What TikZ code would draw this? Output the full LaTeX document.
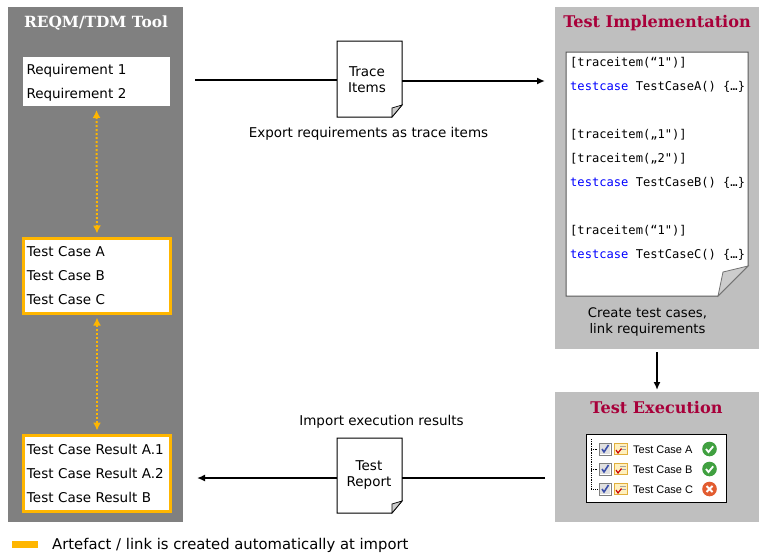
\documentclass[tikz,border=0pt]{standalone}
\usepackage{fontspec}
\setmainfont{DejaVu Sans}
\setmonofont{DejaVu Sans Mono}
\newfontfamily\titlefont{DejaVu Serif}
\newfontfamily\rowfont{Liberation Sans}
\usetikzlibrary{arrows.meta}

\definecolor{panelgrey}{RGB}{128,128,128}
\definecolor{panellight}{RGB}{191,191,191}
\definecolor{autoorange}{RGB}{255,182,0}
\definecolor{titlered}{RGB}{168,0,58}
\definecolor{foldgrey}{RGB}{204,204,204}
\definecolor{codeblue}{RGB}{0,0,255}
\definecolor{okgreen}{RGB}{64,160,64}
\definecolor{failred}{RGB}{226,92,48}
\definecolor{notefill}{RGB}{255,240,190}
\definecolor{noteedge}{RGB}{225,175,60}
\definecolor{tickblue}{RGB}{60,80,170}

\newcommand{\testkw}[1]{\textcolor{codeblue}{#1}}

\tikzset{
  panel/.style={fill=#1, draw=none, inner sep=0pt, outer sep=0pt, anchor=center},
  paneltitle/.style={font=\titlefont\bfseries\fontsize{16.1}{20}\selectfont, inner sep=0pt},
  listbox/.style={fill=white, inner sep=0pt, outer sep=0pt, text width=140pt, align=left,
    minimum width=147pt, font=\fontsize{13.5}{24}\selectfont},
  autobox/.style={listbox, draw=autoorange, line width=3pt},
  docshape/.style={inner sep=0pt, outer sep=0pt, minimum width=65pt},
  doctext/.style={inner sep=0pt, align=center, font=\fontsize{13.5}{16}\selectfont},
  caption/.style={inner sep=0pt, align=center, font=\fontsize{13.5}{16}\selectfont},
  flow/.style={-{Latex[length=8pt,width=7pt]}, line width=2pt},
  autolink/.style={{Latex[length=8pt,width=8pt]}-{Latex[length=8pt,width=8pt]},
    draw=autoorange, line width=2pt, dotted, shorten >=5pt, shorten <=4pt},
  rowtext/.style={inner sep=0pt, anchor=west, font=\rowfont\fontsize{11}{14}\selectfont},
  treeline/.style={line width=0.8pt, densely dotted},
  checkbox/.pic={
    \fill[white] (-6.5,-6.5) rectangle (6.5,6.5);
    \draw[gray, line width=1pt] (-6,-6) rectangle (6,6);
    \fill[foldgrey!60] (-5,-5) rectangle (5,5);
    \draw[tickblue, line width=1.6pt] (-3,0) -- (-1,3) -- (3.5,-4);
  },
  noteicon/.pic={
    \draw[noteedge, fill=notefill, line width=1pt] (-6.5,-5.5) rectangle (6.5,5.5);
    \draw[gray!70, line width=0.6pt] (-1,-2.5) -- (4.5,-2.5) (-1,0) -- (4.5,0);
    \draw[red!80!black, line width=1.2pt] (-5,1) -- (-3,4) -- (0.5,-0.5);
  },
  okicon/.pic={
    \fill[okgreen] (0,0) circle (7.3);
    \draw[white, line width=1.8pt] (-3.5,0) -- (-1,3) -- (3.7,-2.7);
  },
  failicon/.pic={
    \fill[failred] (0,0) circle (7.3);
    \draw[white, line width=1.8pt] (-3,-3) -- (3,3) (-3,3) -- (3,-3);
  },
}

\begin{document}
\begin{tikzpicture}[x=1pt, y=-1pt]
    \useasboundingbox (0,0) rectangle (765,557);

    % Panels
    \node[panel=panelgrey, minimum width=175pt, minimum height=515pt] (toolpanel) at (95.5,264.5) {};
    \node[panel=panellight, minimum width=204pt, minimum height=342pt] (implpanel) at (657,178) {};
    \node[panel=panellight, minimum width=204pt, minimum height=130pt] (execpanel) at (657,457) {};

    % Panel titles
    \node[paneltitle, text=white, font=\titlefont\bfseries\fontsize{15.4}{20}\selectfont] (tooltitle) at (96,23) {REQM/TDM Tool};
    \node[paneltitle, text=titlered] (impltitle) at (657,23) {Test Implementation};
    \node[paneltitle, text=titlered] (exectitle) at (656.5,407.5) {Test Execution};

    % Tool boxes
    \node[listbox, minimum height=49pt] (reqbox) at (96.5,81.5) {\rule{0pt}{12pt}Requirement 1\\Requirement 2};
    \node[autobox, minimum height=75pt] (casebox) at (97,276) {Test Case A\\Test Case B\\Test Case C};
    \node[autobox, minimum height=76pt] (resultbox) at (97,473.5) {Test Case Result A.1\\Test Case Result A.2\\Test Case Result B};

    % Automatic links
    \draw[autolink] (reqbox.south) -- (casebox.north);
    \draw[autolink] (casebox.south) -- (resultbox.north);

    % Trace items document
    \node[docshape, minimum height=76pt] (tracedoc) at (369.5,79) {};
    \draw[fill=white, line width=1pt] (tracedoc.north west) -- (tracedoc.north east)
      -- ([yshift=12pt]tracedoc.south east) -- ([xshift=-10pt]tracedoc.south east)
      -- (tracedoc.south west) -- cycle;
    \draw[fill=foldgrey, line width=0.7pt] ([yshift=12pt]tracedoc.south east)
      -- ([xshift=-10pt,yshift=9pt]tracedoc.south east) -- ([xshift=-10pt]tracedoc.south east) -- cycle;
    \node[doctext] (tracetext) at (367,80) {Trace\\Items};

    % Test report document
    \node[docshape, minimum height=75pt] (reportdoc) at (369.5,475.5) {};
    \draw[fill=white, line width=1pt] (reportdoc.north west) -- (reportdoc.north east)
      -- ([yshift=12pt]reportdoc.south east) -- ([xshift=-10pt]reportdoc.south east)
      -- (reportdoc.south west) -- cycle;
    \draw[fill=foldgrey, line width=0.7pt] ([yshift=12pt]reportdoc.south east)
      -- ([xshift=-10pt,yshift=9pt]reportdoc.south east) -- ([xshift=-10pt]reportdoc.south east) -- cycle;
    \node[doctext] (reporttext) at (369,474.5) {Test\\Report};

    % Flow arrows
    \coordinate (exportstart) at (195,79.5);
    \coordinate (exportend) at (545,81);
    \coordinate (importstart) at (545,478);
    \coordinate (importend) at (197,478);
    \draw[line width=2pt] (exportstart) -- (tracedoc.west |- exportstart);
    \draw[flow] (tracedoc.east |- exportend) -- (exportend);
    \draw[line width=2pt] (importstart) -- (reportdoc.east |- importstart);
    \draw[flow] (reportdoc.west |- importend) -- (importend);
    \draw[flow] ([yshift=-3pt]implpanel.south) -- ([yshift=2pt]execpanel.north);

    % Captions
    \node[caption] (exportcap) at (368.5,134) {Export requirements as trace items};
    \node[caption] (importcap) at (381.5,422) {Import execution results};
    \node[caption, font=\fontsize{13.2}{16}\selectfont] (createcap) at (647.5,322) {Create test cases,\\link requirements};

    % Code page
    \node[inner sep=0pt, outer sep=0pt, minimum width=182pt, minimum height=244pt] (codepage) at (657,174) {};
    \draw[fill=white, draw=black!65, line width=1pt] (codepage.north west) -- (codepage.north east)
      -- ([yshift=30pt]codepage.south east) -- ([xshift=-30pt]codepage.south east)
      -- (codepage.south west) -- cycle;
    \draw[fill=foldgrey, draw=black!55, line width=0.8pt] ([yshift=30pt]codepage.south east)
      -- ([xshift=-25pt,yshift=24pt]codepage.south east) -- ([xshift=-30pt]codepage.south east) -- cycle;
    \node[inner sep=0pt, anchor=north west, align=left, font=\ttfamily\fontsize{12.1}{24}\selectfont] (codetext) at (570,57) {%
      {[}traceitem(“1")]\\
      \testkw{testcase} TestCaseA() \{…\}\\
      \mbox{}\\
      {[}traceitem(„1")]\\
      {[}traceitem(„2")]\\
      \testkw{testcase} TestCaseB() \{…\}\\
      \mbox{}\\
      {[}traceitem(“1")]\\
      \testkw{testcase} TestCaseC() \{…\}};

    % Execution result list
    \node[fill=white, draw=black, line width=1pt, inner sep=0pt, outer sep=0pt, minimum width=140pt, minimum height=68pt] (runlist) at (656.5,468.5) {};
    \draw[treeline] (591,439) -- (591,489) -- (598,489) (591,449) -- (598,449) (591,469) -- (598,469);
    \pic at (605,449) {checkbox};
    \pic at (605,469) {checkbox};
    \pic at (605,489) {checkbox};
    \pic at (621,449) {noteicon};
    \pic at (621,469) {noteicon};
    \pic at (621,489) {noteicon};
    \node[rowtext] (runa) at (633,449.5) {Test Case A};
    \node[rowtext] (runb) at (633,469.5) {Test Case B};
    \node[rowtext] (runc) at (633,489.5) {Test Case C};
    \pic at (709.5,449) {okicon};
    \pic at (709.5,469) {okicon};
    \pic at (709.5,489) {failicon};

    % Legend
    \node[fill=autoorange, inner sep=0pt, minimum width=26pt, minimum height=7pt] (legendbar) at (25,544.5) {};
    \node[inner sep=0pt, anchor=west, font=\fontsize{14.8}{16}\selectfont] (legendtext) at (52,545) {Artefact / link is created automatically at import};
\end{tikzpicture}
\end{document}
